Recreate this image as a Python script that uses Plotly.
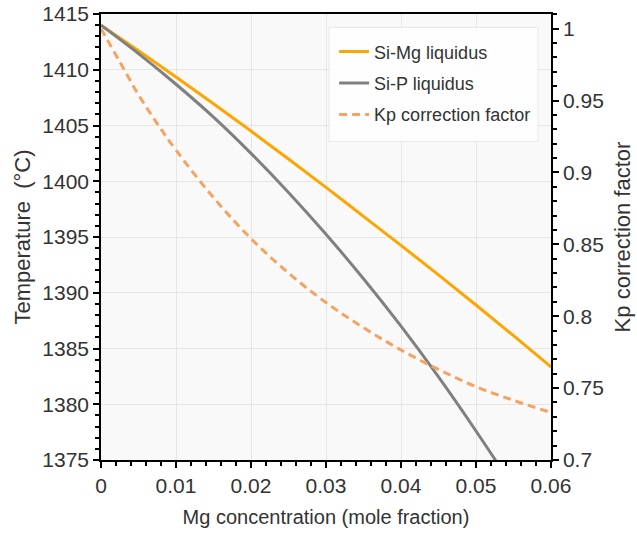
import plotly.graph_objects as go

# Data
x_mg = [0, 0.005, 0.01, 0.015, 0.02, 0.025, 0.03, 0.035, 0.04, 0.045, 0.05, 0.055, 0.06]
t_simg = [1414.0, 1411.7, 1409.35, 1406.95, 1404.5, 1402.0, 1399.45, 1396.85, 1394.25, 1391.6, 1388.9, 1386.15, 1383.35]

x_sip = [0, 0.005, 0.01, 0.015, 0.02, 0.025, 0.03, 0.035, 0.04, 0.045, 0.05, 0.055, 0.06]
t_sip = [1414.0, 1411.45, 1408.7, 1405.75, 1402.5, 1399.0, 1395.25, 1391.25, 1387.0, 1382.45, 1377.6, 1372.5, 1367.1]

x_kp = [0, 0.0025, 0.005, 0.0075, 0.01, 0.015, 0.02, 0.025, 0.03, 0.035, 0.04, 0.045, 0.05, 0.055, 0.06]
kp = [1.0, 0.977, 0.954, 0.934, 0.9155, 0.8825, 0.854, 0.830, 0.8095, 0.792, 0.7765, 0.763, 0.751, 0.7415, 0.733]

FONT = "Liberation Sans, Arial, Helvetica, sans-serif"
TXT = "#333333"
TICK = 21

fig = go.Figure()
fig.add_trace(go.Scatter(x=x_mg, y=t_simg, mode="lines", name="Si-Mg liquidus",
                         line=dict(color="#FFA500", width=3, shape="spline"),
                         legendgroup="a", yaxis="y"))
fig.add_trace(go.Scatter(x=x_sip, y=t_sip, mode="lines", name="Si-P liquidus",
                         line=dict(color="#808080", width=3, shape="spline"),
                         legendgroup="b", yaxis="y"))
fig.add_trace(go.Scatter(x=x_kp, y=kp, mode="lines", name="Kp correction factor",
                         line=dict(color="#F4A460", width=3, dash="8px,5px", shape="spline"),
                         legendgroup="c", yaxis="y2"))

# legend frame (drawn as a shape so its padding matches the reference)
fig.add_shape(type="rect", xref="paper", yref="paper",
              x0=0.5067, x1=0.971, y0=0.7144, y1=0.970,
              fillcolor="rgba(255,255,255,0.85)", line=dict(color="#e8e8e8", width=1),
              layer="above")

fig.update_layout(
    width=637, height=535,
    margin=dict(l=101, r=86, t=14, b=75),
    paper_bgcolor="white",
    plot_bgcolor="#f9f9f9",
    font=dict(family=FONT, color=TXT, size=18),
    showlegend=True,
    legend=dict(x=0.518, y=0.9565, xanchor="left", yanchor="top",
                bgcolor="rgba(0,0,0,0)", borderwidth=0,
                font=dict(size=18, color=TXT), traceorder="grouped", tracegroupgap=5),
    xaxis=dict(range=[0, 0.06], dtick=0.01, tick0=0, automargin=False,
               showline=True, linecolor="black", linewidth=1.5, mirror=True,
               ticks="outside", ticklen=6, tickcolor="black", tickwidth=1.5,
               gridcolor="#e6e6e6", gridwidth=1, zeroline=False,
               tickfont=dict(size=TICK, color=TXT),
               minor=dict(dtick=0.002, ticks="outside", ticklen=4, tickcolor="black", showgrid=False),
               title=dict(text="Mg concentration (mole fraction)", font=dict(size=20, color=TXT), standoff=14)),
    yaxis=dict(range=[1375, 1415], dtick=5, tick0=1375, automargin=False,
               showline=True, linecolor="black", linewidth=1.5, mirror=True,
               ticks="outside", ticklen=6, tickcolor="black", tickwidth=1.5,
               gridcolor="#e6e6e6", gridwidth=1, zeroline=False,
               tickfont=dict(size=TICK, color=TXT),
               minor=dict(dtick=1, ticks="outside", ticklen=4, tickcolor="black", showgrid=False),
               title=dict(text="Temperature \u00a0(°C)", font=dict(size=22, color=TXT), standoff=6)),
    yaxis2=dict(range=[0.7, 1.0102], dtick=0.05, tick0=0.7, overlaying="y", side="right", automargin=False,
                showline=True, linecolor="black", linewidth=1.5,
                ticks="outside", ticklen=6, tickcolor="black", tickwidth=1.5,
                showgrid=False, zeroline=False,
                tickfont=dict(size=TICK, color=TXT),
                minor=dict(dtick=0.01, ticks="outside", ticklen=4, tickcolor="black", showgrid=False),
                title=dict(text="Kp correction factor", font=dict(size=22, color=TXT), standoff=12)),
)

fig.write_html("out.html")
